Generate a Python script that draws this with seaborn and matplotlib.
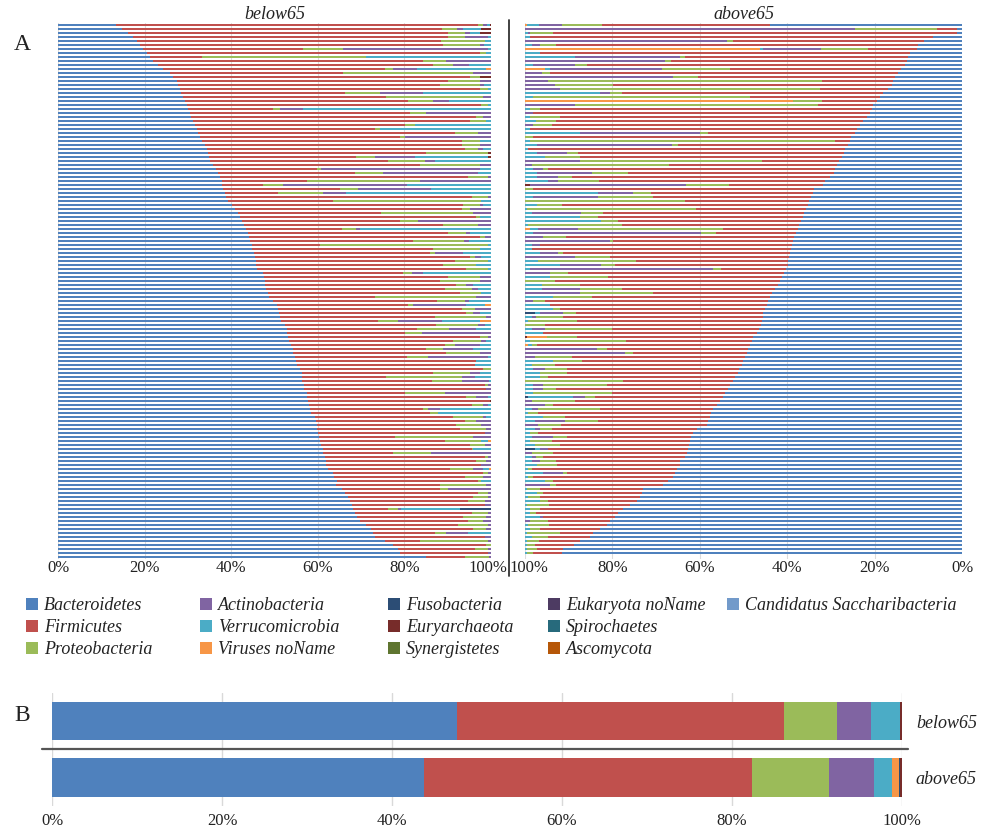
import matplotlib
matplotlib.use("Agg")
import matplotlib.pyplot as plt
from matplotlib.patches import Patch
from matplotlib.lines import Line2D
from matplotlib.transforms import ScaledTranslation
import pandas as pd
import seaborn as sns

# ---------------------------------------------------------------- phyla / colours
PHYLA = ["Bacteroidetes", "Firmicutes", "Proteobacteria", "Actinobacteria",
         "Verrucomicrobia", "Viruses noName", "Fusobacteria", "Euryarchaeota",
         "Synergistetes", "Eukaryota noName", "Spirochaetes", "Ascomycota",
         "Candidatus Saccharibacteria"]
COLORS = {
    "Bacteroidetes": "#4F81BD", "Firmicutes": "#C0504D", "Proteobacteria": "#9BBB59",
    "Actinobacteria": "#8064A2", "Verrucomicrobia": "#4BACC6", "Viruses noName": "#F79646",
    "Fusobacteria": "#2C4D75", "Euryarchaeota": "#772C2A", "Synergistetes": "#5F7530",
    "Eukaryota noName": "#4D3B62", "Spirochaetes": "#276A7C", "Ascomycota": "#B65708",
    "Candidatus Saccharibacteria": "#729ACA",
}
PCT_TICKS = [0, 20, 40, 60, 80, 100]

# ---------------------------------------------------------------- below65 samples (%)
below_bact = [13.5, 14.7, 16.2, 17.4, 18.2, 18.9, 19.7, 20.5, 21.2, 22.0, 23.2, 24.3, 25.8, 26.6, 27.4, 27.8, 28.2, 28.5, 28.9, 29.3,
              29.7, 30.1, 30.5, 30.8, 31.2, 31.6, 32.0, 32.4, 32.8, 33.2, 34.0,
              34.3, 34.7, 34.9, 35.1, 35.8, 36.6, 37.0, 37.4, 37.8, 37.8, 38.2, 38.5, 38.9, 39.3, 40.1, 40.8, 41.6, 42.0, 42.6, 43.0,
              43.5, 43.9, 44.2, 44.5, 44.7, 44.9, 45.2, 45.5, 45.7, 45.8, 46.0, 47.4, 47.6, 47.7, 47.8, 48.0,
              48.5, 48.8, 49.3, 50.5, 50.8, 51.1, 51.2, 51.6, 52.4, 52.8, 52.9, 53.2, 53.4, 53.7, 54.2, 54.3, 54.7, 54.9, 55.3, 55.9,
              56.3, 56.3, 56.4, 56.7, 56.8, 57.4, 57.5, 57.8, 58.0, 58.2, 58.5, 59.3, 59.5, 59.7, 59.8,
              60.1, 60.3, 60.5, 60.8, 61.1, 61.2, 61.6, 61.8, 62.0, 62.4, 63.5, 63.8, 64.2, 64.3, 65.5, 66.2, 67.0, 67.4, 67.8, 68.2,
              68.5, 69.1, 69.7, 71.2, 72.4, 72.8, 73.2, 75.5, 77.4, 78.6, 79.0, 85.0]
below_firm = [83.5, 73.9, 73.9, 72.7, 70.3, 70.0, 36.9, 76.9, 12.0, 62.3, 63.4, 51.2, 40.0, 68.5, 62.7, 60.4, 69.2, 37.7, 46.9, 51.5,
              68.1, 19.6, 50.7, 65.8, 63.9, 48.5, 41.2, 59.2, 46.1, 60.0, 59.3,
              59.6, 50.4, 34.0, 41.1, 47.7, 23.1, 31.5, 57.3, 19.6, 9.6, 26.9, 12.3, 56.6, 24.2, 53.4, 52.4, 33.1, 54.6, 36.3, 45.9,
              22.0, 46.2, 53.2, 37.5, 15.8, 41.7, 40.6, 49.6, 45.9, 43.1, 48.3, 32.3, 42.5, 40.5, 44.2, 41.4,
              44.3, 24.4, 37.7, 30.3, 42.4, 43.2, 35.8, 22.3, 35.0, 30.0, 27.2, 44.2, 37.9, 35.7, 30.9, 35.4, 25.8, 41.7, 41.0, 42.2,
              30.3, 19.5, 30.2, 41.8, 42.1, 22.7, 36.8, 42.0, 37.5, 26.1, 27.3, 32.0, 34.4, 32.3, 33.0,
              38.4, 17.5, 28.9, 34.3, 34.4, 16.2, 36.9, 34.8, 35.8, 28.1, 34.6, 30.1, 32.4, 23.9, 22.7, 30.8, 28.9, 27.3, 30.7, 8.0,
              27.0, 24.4, 25.0, 21.2, 23.5, 14.2, 25.3, 8.0, 21.5, 17.7, 20.3, 9.0]
below_prot = [1.2, 3.5, 3.8, 3.8, 10.0, 8.5, 9.2, 1.5, 38.0, 5.4, 4.6, 1.9, 30.0, 2.3, 7.3, 9.2, 1.8, 8.1, 22.3, 5.8,
              1.5, 1.5, 3.9, 1.5, 3.8, 2.3, 1.1, 5.4, 1.2, 4.2, 4.2,
              3.1, 14.2, 4.3, 8.5, 13.9, 1.1, 6.6, 4.6, 26.1, 4.6, 4.2, 10.4, 3.8, 34.3, 3.9, 1.9, 21.2, 0.8, 4.3, 8.1,
              3.4, 4.2, 1.1, 11.9, 38.8, 10.8, 1.2, 1.2, 7.7, 7.7, 5.0, 2.0, 7.3, 9.2, 2.3, 6.1,
              5.0, 23.4, 6.5, 1.2, 3.1, 1.6, 11.9, 4.6, 9.6, 7.6, 3.9, 1.9, 6.5, 2.3, 3.8, 7.7, 5.0, 0.0, 0.0, 1.9,
              8.5, 17.4, 6.9, 0.8, 0.0, 9.3, 2.3, 0.0, 2.6, 1.2, 2.0, 6.8, 2.7, 5.8, 6.1,
              0.0, 18.1, 8.4, 3.4, 0.4, 8.8, 0.8, 2.3, 0.0, 5.4, 1.1, 4.2, 0.8, 10.7, 1.9, 2.3, 3.4, 3.8, 0.0, 2.3,
              3.8, 5.4, 3.4, 6.9, 3.0, 2.7, 0.0, 15.8, 1.1, 3.0, 0.0, 5.5]
below_actino = [0.8, 1.5, 1.2, 5.4, 0.0, 1.0, 33.5, 0.0, 0.0, 10.3, 3.8, 5.4, 4.2, 0.0, 2.6, 1.0, 0.0, 10.0, 1.9, 3.8,
                0.0, 5.4, 14.9, 1.9, 0.0, 0.0, 0.0, 3.0, 19.9, 0.0, 2.5,
                1.2, 0.0, 9.2, 2.3, 2.6, 36.6, 21.9, 0.7, 16.5, 28.5, 16.9, 5.4, 0.7, 0.0, 0.8, 4.9, 4.1, 0.0, 16.8, 3.0,
                0.8, 0.8, 1.5, 1.2, 0.0, 0.0, 6.5, 1.5, 0.0, 0.0, 0.0, 2.6, 2.6, 2.6, 1.5, 1.5,
                0.0, 3.4, 0.8, 12.3, 3.7, 1.5, 1.1, 10.1, 1.5, 6.2, 16.0, 0.7, 1.1, 5.7, 7.0, 2.6, 13.8, 0.0, 0.0, 0.0,
                2.3, 3.1, 6.2, 0.7, 1.1, 10.6, 2.7, 0.0, 1.1, 2.7, 0.0, 0.8, 3.4, 2.2, 1.1,
                1.5, 4.1, 0.0, 1.5, 0.0, 13.8, 0.7, 1.1, 2.2, 2.3, 0.8, 1.9, 0.0, 1.1, 9.9, 0.7, 0.7, 1.5, 1.5, 0.8,
                0.7, 1.1, 1.9, 0.7, 1.1, 5.0, 1.5, 0.7, 0.0, 0.7, 0.7, 0.5]
below_verru = [0.8, 4.2, 2.3, 0.7, 1.5, 1.6, 0.7, 1.1, 28.8, 0.0, 5.0, 16.1, 0.0, 0.0, 0.0, 1.6, 0.8, 15.7, 0.0, 9.6,
               0.7, 43.4, 0.0, 0.0, 1.1, 17.6, 25.7, 0.0, 0.0, 2.6, 0.0,
               1.8, 0.0, 16.9, 13.0, 0.0, 2.6, 3.0, 0.0, 0.0, 19.5, 13.8, 33.4, 0.0, 2.2, 1.8, 0.0, 0.0, 2.6, 0.0, 0.0,
               30.3, 4.9, 0.0, 5.0, 0.7, 2.6, 6.5, 2.2, 0.7, 3.4, 0.7, 15.7, 0.0, 0.0, 4.2, 3.0,
               2.2, 0.0, 5.1, 4.2, 0.0, 2.6, 0.0, 8.8, 1.5, 3.4, 0.0, 0.0, 1.1, 2.6, 4.1, 0.0, 0.7, 3.4, 3.7, 0.0,
               2.6, 3.7, 0.5, 0.0, 0.0, 0.0, 0.7, 0.0, 0.8, 11.8, 12.2, 1.1, 0.0, 0.0, 0.0,
               0.0, 0.0, 1.5, 0.0, 4.1, 0.0, 0.0, 0.0, 0.0, 1.3, 0.0, 0.0, 2.3, 0.0, 0.0, 0.0, 0.0, 0.0, 0.0, 13.5,
               0.0, 0.0, 0.0, 0.0, 0.0, 5.3, 0.0, 0.0, 0.0, 0.0, 0.0, 0.0]
# minor phyla, keyed by sample position (0 = top row)
below_virus = {11: 1.1, 70: 1.5, 74: 2.6, 104: 0.7, 111: 0.5}
below_fuso = {121: 7.2}
below_eury = {0: 0.2, 1: 2.2, 2: 2.6, 13: 2.6, 32: 0.7, 33: 0.7, 94: 0.2}

# ---------------------------------------------------------------- above65 samples (%)
above_bact = [43.9, 1.2, 1.2, 6.6, 8.8, 10.0, 10.4, 11.9, 12.3, 12.7, 13.1, 13.9, 14.6, 15.3, 15.7, 16.1, 16.9, 18.0, 18.8, 19.5,
              20.3, 20.7, 21.1, 21.8, 22.6, 23.3, 24.1, 24.5, 25.3, 25.6, 26.0,
              26.8, 27.2, 27.6, 28.4, 28.8, 29.1, 29.5, 30.3, 31.5, 31.9, 33.9, 34.3, 34.6, 35.0, 35.4, 35.8, 36.2, 36.6, 36.9, 37.3,
              37.7, 38.1, 38.5, 38.8, 39.0, 39.2, 39.4, 39.6, 39.9, 40.0, 40.4, 40.8, 41.2, 41.6, 42.3,
              42.7, 43.5, 43.9, 44.3, 44.6, 45.0, 45.4, 45.6, 45.8, 46.1, 46.4, 47.0, 47.8, 48.1, 48.5, 48.9, 49.3, 49.7, 50.1, 50.4,
              51.0, 51.2, 51.9, 52.5, 53.1, 53.5, 54.3, 54.7, 55.5, 56.2, 57.0, 57.4, 57.7, 58.1, 58.4,
              60.8, 61.6, 61.9, 62.3, 62.5, 62.7, 63.1, 63.5, 64.6, 64.7, 65.3, 65.7, 66.1, 67.2, 68.3, 72.9, 73.3, 73.7, 74.4, 75.9,
              77.5, 78.6, 79.4, 80.5, 81.3, 82.8, 84.4, 85.1, 87.4, 88.9, 91.2, 91.6]
above_firm = [38.5, 4.6, 92.3, 92.3, 43.5, 82.8, 11.1, 84.7, 51.1, 53.8, 72.8, 39.3, 79.7, 45.0, 16.4, 63.7, 15.6, 59.9, 29.7, 12.6,
              12.6, 75.9, 77.0, 70.2, 70.2, 70.6, 74.8, 33.6, 72.8, 3.4, 38.9,
              72.5, 61.0, 60.3, 17.5, 38.5, 66.0, 47.3, 59.5, 51.9, 21.7, 64.5, 37.0, 36.2, 28.6, 56.4, 25.2, 46.1, 46.9, 42.0, 40.8,
              17.2, 18.3, 52.3, 41.2, 57.8, 59.5, 52.1, 41.2, 34.9, 39.7, 14.9, 49.6, 40.0, 51.5, 45.4,
              35.1, 27.1, 40.8, 51.1, 49.6, 46.9, 42.9, 45.6, 42.3, 49.4, 33.8, 48.8, 40.4, 28.6, 48.8, 32.4, 25.9, 39.7, 37.0, 42.7,
              39.5, 39.3, 42.7, 25.0, 28.2, 39.3, 25.9, 29.4, 33.2, 37.4, 25.9, 39.7, 33.2, 25.2, 33.2,
              33.2, 35.5, 28.6, 31.7, 29.6, 32.0, 30.5, 32.4, 28.2, 28.1, 33.2, 24.8, 32.0, 26.3, 24.4, 23.6, 22.5, 22.9, 20.2, 18.7,
              19.1, 18.7, 16.4, 14.1, 13.3, 13.7, 7.6, 9.5, 9.5, 8.8, 6.1, 6.5]
above_prot = [9.2, 18.7, 5.3, 0.0, 1.5, 3.8, 10.7, 0.0, 1.1, 1.5, 2.7, 15.6, 1.9, 5.7, 62.5, 13.3, 59.5, 2.7, 49.6, 6.5,
              55.7, 2.3, 0.0, 6.9, 4.6, 4.2, 0.0, 1.9, 1.9, 69.8, 1.5,
              0.0, 2.7, 8.0, 42.0, 31.7, 1.1, 8.4, 3.1, 9.5, 9.9, 1.9, 4.2, 12.6, 36.6, 5.7, 38.9, 5.0, 4.2, 3.8, 21.4,
              33.2, 3.4, 5.3, 0.8, 0.0, 0.0, 1.1, 8.0, 22.5, 3.1, 1.9, 4.2, 13.3, 6.9, 8.8,
              9.5, 16.8, 8.8, 2.7, 0.0, 1.5, 2.9, 6.1, 11.1, 4.6, 15.3, 0.0, 6.9, 22.1, 1.1, 2.3, 1.9, 8.4, 6.5, 5.3,
              5.0, 6.1, 1.9, 22.5, 14.5, 3.0, 17.9, 2.3, 9.9, 1.9, 14.1, 2.3, 5.0, 7.6, 5.3,
              2.7, 1.9, 3.0, 5.0, 5.7, 0.0, 5.0, 1.5, 3.8, 4.6, 0.8, 0.8, 1.1, 1.9, 1.5, 3.1, 1.5, 2.7, 1.9, 5.0,
              2.3, 1.5, 0.0, 4.2, 4.6, 2.3, 7.6, 3.8, 2.7, 1.9, 2.3, 1.5]
above_actino = [5.3, 75.5, 0.5, 0.0, 46.1, 1.9, 13.3, 0.0, 24.0, 32.0, 9.5, 25.6, 3.8, 33.9, 5.3, 6.9, 8.0, 2.3, 0.0, 0.0,
                11.4, 0.0, 1.9, 0.0, 0.0, 1.9, 0.0, 27.5, 0.0, 0.0, 30.9,
                0.0, 6.9, 0.0, 12.6, 1.5, 2.3, 12.6, 4.9, 2.3, 35.9, 0.0, 8.0, 14.9, 0.0, 0.0, 0.0, 11.4, 0.0, 0.0, 0.0,
                9.2, 38.5, 4.2, 19.5, 1.9, 0.0, 4.2, 11.4, 0.0, 9.5, 41.9, 5.7, 0.0, 0.0, 0.0,
                8.8, 12.6, 0.0, 1.9, 0.0, 0.0, 5.3, 1.1, 0.0, 0.0, 3.0, 0.0, 0.0, 0.0, 0.0, 16.4, 22.9, 2.3, 0.0, 0.0,
                2.7, 0.0, 0.0, 0.0, 2.3, 2.3, 0.0, 2.7, 1.5, 4.6, 1.5, 0.0, 0.0, 6.9, 3.0,
                1.1, 0.0, 5.0, 0.0, 0.0, 1.9, 1.5, 1.1, 1.9, 0.0, 0.0, 4.6, 0.0, 0.0, 5.7, 0.0, 0.0, 0.0, 0.0, 0.0,
                0.0, 0.0, 0.8, 1.1, 0.0, 0.0, 0.0, 0.0, 0.0, 0.0, 0.0, 0.0]
above_verru = [2.7, 0.0, 0.7, 1.1, 0.0, 1.5, 0.8, 3.4, 11.4, 0.0, 1.9, 1.1, 0.0, 0.0, 0.0, 0.0, 0.0, 17.2, 1.9, 0.0,
               0.0, 1.1, 0.0, 1.1, 2.6, 0.0, 1.1, 12.6, 0.0, 1.1, 2.7,
               0.7, 2.7, 4.6, 0.0, 0.0, 1.9, 2.7, 2.7, 5.3, 0.0, 0.0, 16.8, 1.9, 0.0, 2.7, 0.4, 1.5, 12.6, 17.5, 0.8,
               1.9, 1.9, 0.0, 0.0, 1.5, 1.5, 3.4, 0.0, 3.0, 8.0, 1.1, 0.0, 5.7, 0.0, 3.8,
               3.8, 0.0, 6.5, 0.0, 5.7, 6.5, 1.1, 1.5, 0.8, 0.0, 1.5, 4.2, 0.0, 1.1, 0.8, 0.0, 0.0, 0.0, 6.5, 1.5,
               1.9, 3.4, 3.4, 0.0, 1.9, 1.9, 1.9, 10.3, 0.0, 0.0, 1.5, 0.7, 4.2, 2.3, 0.0,
               2.3, 1.1, 1.5, 1.1, 2.3, 1.1, 0.0, 1.5, 1.5, 2.7, 0.7, 4.2, 0.8, 4.6, 0.0, 0.4, 2.7, 0.8, 3.4, 0.4,
               1.1, 1.1, 3.4, 0.0, 0.8, 1.1, 0.4, 1.5, 0.4, 0.4, 0.4, 0.4]
above_virus = {0: 0.4, 6: 53.8, 11: 4.6, 19: 61.4, 51: 1.1, 78: 4.6, 80: 0.8}
above_fuso = {72: 2.3, 93: 0.8, 106: 2.3}
above_eury = {40: 1.1, 78: 0.4}

# ---------------------------------------------------------------- group means (%)
group_names = ["below65", "above65"]
mean_bact = [47.7, 43.8]
mean_firm = [38.4, 38.6]
mean_prot = [6.3, 9.0]
mean_actino = [3.9, 5.3]
mean_verru = [3.5, 2.1]
mean_virus = [0.0, 0.8]
mean_fuso = [0.0, 0.2]
mean_eury = [0.2, 0.2]


def sparse(values, n):
    col = [0.0] * n
    for i, v in values.items():
        col[i] = v
    return col


def abundance_table(ids, bact, firm, prot, actino, verru, virus, fuso, eury):
    table = pd.DataFrame({
        "Bacteroidetes": bact, "Firmicutes": firm, "Proteobacteria": prot,
        "Actinobacteria": actino, "Verrucomicrobia": verru, "Viruses noName": virus,
        "Fusobacteria": fuso, "Euryarchaeota": eury,
    }, index=pd.Index(ids, name="sample"))
    # relative abundance per sample
    return table.div(table.sum(axis=1), axis=0) * 100


def stacked_barh(ax, table, width):
    """Stacked horizontal bars: cumulative totals drawn from the outermost
    phylum inwards so every segment shows its own share."""
    cum = table.cumsum(axis=1).reset_index().melt(
        id_vars="sample", var_name="phylum", value_name="cum")
    sns.barplot(data=cum, x="cum", y="sample", hue="phylum",
                hue_order=list(reversed(table.columns)), order=list(table.index),
                palette=COLORS, dodge=False, width=width, saturation=1,
                errorbar=None, legend=False, orient="h", ax=ax, linewidth=0)


sns.set_theme(style="white")
plt.rcParams["font.family"] = ["Liberation Serif", "DejaVu Serif"]

W, H = 984, 830
fig = plt.figure(figsize=(W / 100, H / 100), dpi=100)


def fx(px):
    return px / W


def fy(py):
    return 1 - py / H


n_below = len(below_bact)
n_above = len(above_bact)
below = abundance_table([f"b{i}" for i in range(n_below)], below_bact, below_firm, below_prot,
                        below_actino, below_verru, sparse(below_virus, n_below),
                        sparse(below_fuso, n_below), sparse(below_eury, n_below))
above = abundance_table([f"a{i}" for i in range(n_above)], above_bact, above_firm, above_prot,
                        above_actino, above_verru, sparse(above_virus, n_above),
                        sparse(above_fuso, n_above), sparse(above_eury, n_above))
means = abundance_table(group_names, mean_bact, mean_firm, mean_prot, mean_actino,
                        mean_verru, mean_virus, mean_fuso, mean_eury)

# ---------------------------------------------------------------- panel A
# one 4-px slot per sample row keeps the thin bars crisp
slots = max(n_below, n_above)
A_TOP = 23
A_BOTTOM = A_TOP + 4 * slots
axL = fig.add_axes([fx(58), fy(A_BOTTOM), fx(433), (A_BOTTOM - A_TOP) / H])
axR = fig.add_axes([fx(525), fy(A_BOTTOM), fx(437), (A_BOTTOM - A_TOP) / H])
for ax, table, title in [(axL, below, "below65"), (axR, above, "above65")]:
    stacked_barh(ax, table, width=0.5)
    ax.set_ylim(slots - 0.5, -0.5)
    ax.set_xlim(0, 100)
    ax.set_xticks(PCT_TICKS)
    ax.set_xticklabels([f"{t}%" for t in PCT_TICKS])
    ax.set_yticks([])
    ax.set_xlabel("")
    ax.set_ylabel("")
    ax.grid(axis="x", color="#dcdcdc", lw=0.8)
    ax.set_axisbelow(True)
    ax.tick_params(axis="x", length=0, pad=1, labelsize=12, colors="#222222")
    for s in ax.spines.values():
        s.set_visible(False)
    ax.set_title(title, fontsize=13, style="italic", pad=3, color="#222222")
axR.set_xlim(100, 0)

# nudge the two "100%" labels apart on either side of the divider
for ax, dx in [(axL, -3), (axR, 4)]:
    lbl = ax.get_xticklabels()[-1]
    lbl.set_transform(lbl.get_transform() + ScaledTranslation(dx / 100, 0, fig.dpi_scale_trans))

fig.add_artist(Line2D([fx(509), fx(509)], [fy(20), fy(576)], color="#333333", lw=1.3,
                      transform=fig.transFigure))
fig.text(fx(14), fy(45), "A", fontsize=17, va="center", ha="left", color="#222222")

# ---------------------------------------------------------------- legend
legend_cols = [PHYLA[0:3], PHYLA[3:6], PHYLA[6:9], PHYLA[9:12], PHYLA[12:13]]
legend_x = [26, 200, 388, 548, 727]
for names, x in zip(legend_cols, legend_x):
    handles = [Patch(facecolor=COLORS[n], edgecolor="none") for n in names]
    leg = fig.legend(handles, names, loc="upper left", bbox_to_anchor=(fx(x), fy(597)),
                     frameon=False, borderpad=0, borderaxespad=0, handlelength=0.65,
                     handleheight=0.65, handletextpad=0.35, labelspacing=0.28,
                     prop={"family": "Liberation Serif", "style": "italic", "size": 13})
    for t in leg.get_texts():
        t.set_color("#222222")

# ---------------------------------------------------------------- panel B
axB = fig.add_axes([fx(52), fy(805.75), fx(850), 113 / H])
stacked_barh(axB, means, width=0.68)
axB.set_xlim(0, 100)
axB.set_ylim(1.5, -0.5)
axB.set_xticks(PCT_TICKS)
axB.set_xticklabels([f"{t}%" for t in PCT_TICKS])
axB.set_xlabel("")
axB.set_ylabel("")
axB.yaxis.tick_right()
axB.tick_params(axis="y", length=0, pad=10, labelsize=13, colors="#222222")
axB.tick_params(axis="x", length=0, pad=5, labelsize=12, colors="#222222")
for lbl in axB.get_yticklabels():
    lbl.set_fontstyle("italic")
axB.grid(axis="x", color="#d9d9d9", lw=1.0)
axB.set_axisbelow(True)
for s in axB.spines.values():
    s.set_visible(False)
fig.add_artist(Line2D([fx(42), fx(908)], [fy(749), fy(749)], color="#555555", lw=1.6,
                      transform=fig.transFigure))
fig.text(fx(14), fy(715), "B", fontsize=17, va="center", ha="left", color="#222222")

fig.savefig("out.png", dpi=100)
